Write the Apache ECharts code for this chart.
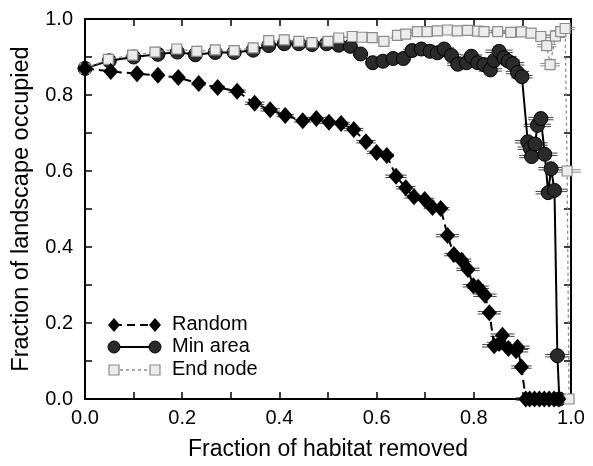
<!DOCTYPE html>
<html>
<head>
<meta charset="utf-8">
<script src="https://cdn.jsdelivr.net/npm/echarts@6/dist/echarts.min.js"></script>
<style>
html,body{margin:0;padding:0;background:#fff;}
#c{width:593px;height:466px;}
</style>
</head>
<body>
<div id="c"></div>
<script>
// ---- data ----
const xTicks = [0.0, 0.2, 0.4, 0.6, 0.8, 1.0];
const yTicks = [0.0, 0.2, 0.4, 0.6, 0.8, 1.0];
const seriesNames = ['Random', 'Min area', 'End node'];

const randomPts = [[0.0,0.87],[0.053,0.862],[0.107,0.856],[0.15,0.852],[0.192,0.846],[0.234,0.83],[0.273,0.82],[0.313,0.81],[0.349,0.778],[0.381,0.761],[0.412,0.746],[0.448,0.732],[0.476,0.738],[0.502,0.728],[0.527,0.725],[0.553,0.709],[0.578,0.677],[0.6,0.649],[0.621,0.641],[0.64,0.586],[0.66,0.556],[0.677,0.532],[0.699,0.525],[0.715,0.504],[0.732,0.501],[0.746,0.43],[0.759,0.38],[0.775,0.365],[0.788,0.341],[0.799,0.298],[0.809,0.294],[0.823,0.273],[0.832,0.227],[0.842,0.14],[0.852,0.146],[0.859,0.168],[0.871,0.133],[0.887,0.127],[0.89,0.136],[0.898,0.084],[0.907,0.0],[0.915,0.0],[0.925,0.0],[0.935,0.0],[0.945,0.0],[0.955,0.0],[0.965,0.0],[0.975,0.0]];
const randomErr = [0,0.01,0.01,0.012,0.012,0.015,0.015,0.018,0.02,0.02,0.018,0.018,0.02,0.02,0.018,0.02,0.02,0.02,0.015,0.022,0.02,0.02,0.02,0.018,0.018,0.024,0.02,0.02,0.024,0.022,0.022,0.024,0.024,0.025,0.025,0.025,0.025,0.025,0.025,0.021,0.02,0.02,0.02,0.02,0.02,0.02,0.02,0.02];

const minAreaPts = [[0.0,0.87],[0.05,0.89],[0.1,0.9],[0.15,0.907],[0.19,0.913],[0.227,0.906],[0.268,0.912],[0.307,0.912],[0.346,0.918],[0.378,0.93],[0.41,0.935],[0.44,0.935],[0.467,0.933],[0.497,0.935],[0.522,0.931],[0.546,0.928],[0.567,0.908],[0.592,0.885],[0.613,0.889],[0.634,0.896],[0.655,0.896],[0.673,0.917],[0.692,0.921],[0.71,0.915],[0.725,0.911],[0.739,0.921],[0.754,0.904],[0.767,0.881],[0.785,0.885],[0.795,0.902],[0.808,0.885],[0.821,0.88],[0.834,0.866],[0.842,0.891],[0.852,0.915],[0.862,0.898],[0.871,0.889],[0.88,0.882],[0.89,0.859],[0.899,0.848],[0.911,0.677],[0.916,0.66],[0.919,0.638],[0.926,0.671],[0.931,0.72],[0.938,0.738],[0.946,0.644],[0.953,0.543],[0.959,0.606],[0.966,0.549],[0.972,0.114],[0.976,0.0]];
const minAreaErr = [0,0.008,0.008,0.008,0.008,0.01,0.01,0.01,0.01,0.012,0.012,0.012,0.012,0.012,0.014,0.014,0.016,0.016,0.016,0.016,0.016,0.018,0.018,0.018,0.018,0.02,0.02,0.022,0.022,0.022,0.022,0.024,0.024,0.026,0.028,0.026,0.024,0.024,0.024,0.022,0.026,0.026,0.026,0.026,0.028,0.026,0.026,0.026,0.026,0.026,0.025,0.02];

const endNodePts = [[0.0,0.87],[0.048,0.894],[0.098,0.905],[0.144,0.913],[0.189,0.921],[0.23,0.915],[0.268,0.919],[0.307,0.917],[0.346,0.924],[0.378,0.943],[0.41,0.945],[0.44,0.941],[0.467,0.938],[0.5,0.941],[0.522,0.95],[0.55,0.954],[0.57,0.952],[0.591,0.951],[0.615,0.941],[0.643,0.957],[0.66,0.96],[0.684,0.967],[0.704,0.967],[0.725,0.969],[0.746,0.971],[0.766,0.969],[0.787,0.97],[0.808,0.968],[0.821,0.967],[0.849,0.967],[0.876,0.965],[0.898,0.966],[0.918,0.963],[0.938,0.954],[0.95,0.93],[0.957,0.88],[0.968,0.955],[0.979,0.967],[0.988,0.975],[0.992,0.6],[0.996,0.0]];
const endNodeErr = [0,0.008,0.008,0.008,0.008,0.008,0.008,0.008,0.008,0.01,0.01,0.01,0.01,0.01,0.012,0.012,0.012,0.012,0.012,0.012,0.014,0.014,0.014,0.014,0.014,0.014,0.014,0.014,0.016,0.016,0.016,0.016,0.018,0.02,0.02,0.02,0.02,0.02,0.02,0.028,0.0];

// ---- chart ----
const FONT = "'Liberation Sans', Arial, Helvetica, sans-serif";
const chart = echarts.init(document.getElementById('c'), null, {renderer: 'canvas'});

function withErr(pts, errs){ return pts.map((p,i)=>[p[0],p[1],errs[i]]); }

function errRender(color){
  return function(params, api){
    const x = api.value(0), y = api.value(1), e = api.value(2);
    if (!e) return null;
    const a = api.coord([x - e, y]);
    const b = api.coord([x + e, y]);
    return {
      type: 'group',
      children: [
        {type:'line', shape:{x1:a[0], y1:a[1]-1.2, x2:b[0], y2:b[1]-1.2}, style:{stroke:color, lineWidth:1}},
        {type:'line', shape:{x1:a[0], y1:a[1]+1.2, x2:b[0], y2:b[1]+1.2}, style:{stroke:color, lineWidth:1}}
      ]
    };
  };
}

const axisCommon = {
  type: 'value', min: 0, max: 1, interval: 0.2,
  axisLine: {show: true, onZero: false, lineStyle: {color: '#000', width: 2}},
  axisTick: {show: true, inside: true, length: 7, lineStyle: {color: '#000', width: 1.5}},
  minorTick: {show: true, splitNumber: 2, length: 7, lineStyle: {color: '#000', width: 1.5}},
  splitLine: {show: false},
  minorSplitLine: {show: false}
};

const option = {
  backgroundColor: '#fff',
  animation: false,
  grid: {left: 85, right: 22, top: 19, bottom: 62, containLabel: false},
  xAxis: [
    Object.assign({}, axisCommon, {
      position: 'bottom',
      name: 'Fraction of habitat removed', nameLocation: 'middle', nameGap: 39,
      nameTextStyle: {fontSize: 23, color: '#000', fontFamily: FONT},
      axisLabel: {show: true, fontSize: 20, color: '#000', fontFamily: FONT, margin: 9,
        formatter: v => xTicks.find(t => Math.abs(t - v) < 1e-6) !== undefined ? v.toFixed(1) : ''}
    }),
    Object.assign({}, axisCommon, {position: 'top', axisLabel: {show: false}})
  ],
  yAxis: [
    Object.assign({}, axisCommon, {
      position: 'left',
      name: 'Fraction of landscape occupied', nameLocation: 'middle', nameGap: 51,
      nameTextStyle: {fontSize: 23.5, color: '#000', fontFamily: FONT},
      axisLabel: {show: true, fontSize: 20, color: '#000', fontFamily: FONT, margin: 12,
        formatter: v => yTicks.find(t => Math.abs(t - v) < 1e-6) !== undefined ? v.toFixed(1) : ''}
    }),
    Object.assign({}, axisCommon, {position: 'right', axisLabel: {show: false}})
  ],
  series: [
    {type:'custom', name:'randomErr', renderItem: errRender('#444'), data: withErr(randomPts, randomErr), z: 2, silent: true},
    {type:'custom', name:'minErr', renderItem: errRender('#444'), data: withErr(minAreaPts, minAreaErr), z: 2, silent: true},
    {type:'custom', name:'endErr', renderItem: errRender('#888'), data: withErr(endNodePts, endNodeErr), z: 2, silent: true},
    {
      type: 'line', name: seriesNames[1], data: minAreaPts, z: 3,
      symbol: 'circle', symbolSize: 14, showAllSymbol: true,
      lineStyle: {color: '#000', width: 2},
      itemStyle: {color: '#2b2b2b', borderColor: '#000', borderWidth: 1}
    },
    {
      type: 'line', name: seriesNames[2], data: endNodePts, z: 4,
      symbol: 'rect', symbolSize: 10, showAllSymbol: true,
      lineStyle: {color: '#8a8a8a', width: 1.3, type: [3, 3]},
      itemStyle: {color: '#ececec', borderColor: '#8a8a8a', borderWidth: 1.2}
    },
    {
      type: 'line', name: seriesNames[0], data: randomPts, z: 5,
      symbol: 'diamond', symbolSize: [15, 17], showAllSymbol: true,
      lineStyle: {color: '#000', width: 2, type: [9, 5]},
      itemStyle: {color: '#000', borderColor: '#000', borderWidth: 0}
    }
  ],
  graphic: [
    // legend: Random
    {type:'line', shape:{x1:114, y1:325, x2:155, y2:325}, style:{stroke:'#000', lineWidth:2, lineDash:[8,5]}, z: 10},
    {type:'polygon', shape:{points:[[114,318],[120,325],[114,332],[108,325]]}, style:{fill:'#000'}, z: 10},
    {type:'polygon', shape:{points:[[155,318],[161,325],[155,332],[149,325]]}, style:{fill:'#000'}, z: 10},
    {type:'text', left: 172, top: 314, style:{text: seriesNames[0], font: "20px " + FONT, fill:'#000'}, z: 10},
    // legend: Min area
    {type:'line', shape:{x1:114, y1:347, x2:155, y2:347}, style:{stroke:'#000', lineWidth:2}, z: 10},
    {type:'circle', shape:{cx:114, cy:347, r:6}, style:{fill:'#2b2b2b', stroke:'#000', lineWidth:1}, z: 10},
    {type:'circle', shape:{cx:155, cy:347, r:6}, style:{fill:'#2b2b2b', stroke:'#000', lineWidth:1}, z: 10},
    {type:'text', left: 172, top: 336, style:{text: seriesNames[1], font: "20px " + FONT, fill:'#000'}, z: 10},
    // legend: End node
    {type:'line', shape:{x1:114, y1:370, x2:155, y2:370}, style:{stroke:'#8a8a8a', lineWidth:1.3, lineDash:[3,3]}, z: 10},
    {type:'rect', shape:{x:109, y:365, width:10, height:10}, style:{fill:'#ececec', stroke:'#8a8a8a', lineWidth:1.2}, z: 10},
    {type:'rect', shape:{x:150, y:365, width:10, height:10}, style:{fill:'#ececec', stroke:'#8a8a8a', lineWidth:1.2}, z: 10},
    {type:'text', left: 172, top: 359, style:{text: seriesNames[2], font: "20px " + FONT, fill:'#000'}, z: 10}
  ]
};
chart.setOption(option);
</script>
</body>
</html>
